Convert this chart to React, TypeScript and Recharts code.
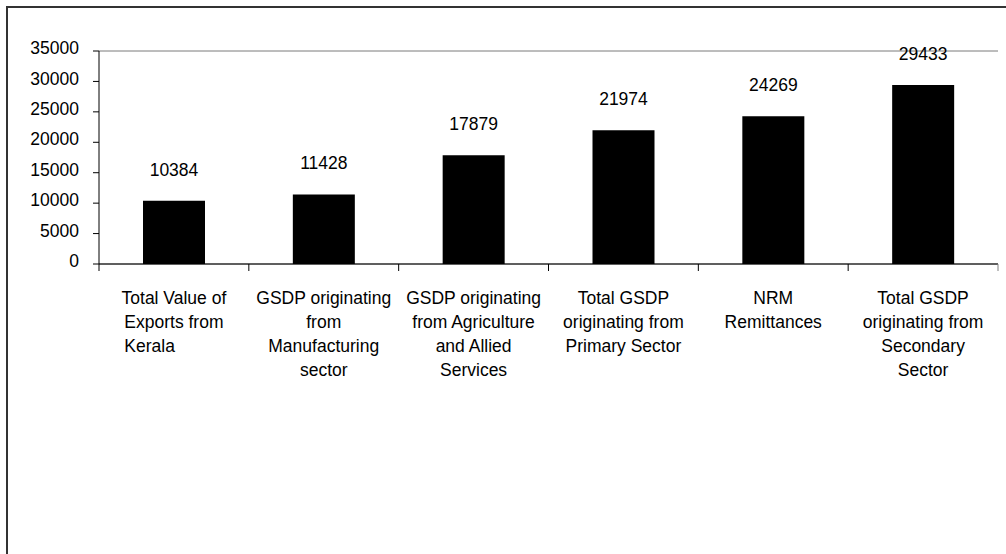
import React from "react";
import { BarChart, Bar, XAxis, YAxis, CartesianGrid, LabelList } from "recharts";

// category labels, one entry per line of the axis label
const categoryLines: string[][] = [
    ["Total Value of", "Exports from", "Kerala\u00A0\u00A0\u00A0\u00A0\u00A0\u00A0\u00A0\u00A0\u00A0\u00A0"],
    ["GSDP originating", "from", "Manufacturing", "sector"],
    ["GSDP originating", "from Agriculture", "and Allied", "Services"],
    ["Total GSDP", "originating from", "Primary Sector"],
    ["NRM", "Remittances"],
    ["Total GSDP", "originating from", "Secondary", "Sector"],
];
const values = [10384, 11428, 17879, 21974, 24269, 29433];
const yTicks = [0, 5000, 10000, 15000, 20000, 25000, 30000, 35000];

const data = values.map((v, i) => ({ name: categoryLines[i].join(" "), value: v }));

const FONT = "'Liberation Sans', Arial, sans-serif";
const FONT_SIZE = 17.5;
const LINE_H = 24;
const TICK_LEN = 7;
const LABEL_GAP = 28;

// label lines plus the tick marks that sit between categories
function CategoryTick(props: any) {
    const { x, y, payload, index, visibleTicksCount } = props;
    const lines = categoryLines[payload.index ?? index] || [];
    const half = payload.offset || 0;
    const last = index === visibleTicksCount - 1;
    return (
        <g>
            <line x1={x - half} x2={x - half} y1={y} y2={y + TICK_LEN} stroke="#000" />
            {last && <line x1={x + half} x2={x + half} y1={y} y2={y + TICK_LEN} stroke="#808080" />}
            <text x={x} y={y + LABEL_GAP} textAnchor="middle" fill="#000" fontSize={FONT_SIZE} fontFamily={FONT}>
                {lines.map((l, i) => (
                    <tspan key={i} x={x} dy={i === 0 ? "0.71em" : LINE_H}>
                        {l}
                    </tspan>
                ))}
            </text>
        </g>
    );
}

export default function App() {
    return (
        <div style={{ position: "absolute", left: 0, top: 0, width: 1006, height: 554, overflow: "hidden", background: "#fff" }}>
            <div
                style={{
                    position: "absolute",
                    left: 6,
                    top: 6,
                    width: 1020,
                    height: 580,
                    borderLeft: "2px solid #333",
                    borderTop: "2px solid #333",
                }}
            />
            <div style={{ position: "absolute", left: 0, top: 0 }}>
                <BarChart
                    width={1006}
                    height={554}
                    data={data}
                    margin={{ top: 51, right: 8, left: 0, bottom: 0 }}
                    style={{ fontFamily: FONT }}
                >
                    <CartesianGrid vertical={false} stroke="#7a7a7a" />
                    <XAxis
                        xAxisId="cat"
                        dataKey="name"
                        height={290}
                        stroke="#000"
                        tickLine={false}
                        tickSize={0}
                        tickMargin={0}
                        interval={0}
                        tick={<CategoryTick />}
                    />
                    <YAxis
                        yAxisId="v"
                        width={99}
                        domain={[0, 35000]}
                        ticks={yTicks}
                        interval={0}
                        stroke="#000"
                        tickSize={6}
                        tickMargin={14}
                        tick={{ fill: "#000", fontSize: FONT_SIZE, dy: -3 }}
                    />
                    <YAxis yAxisId="r" orientation="right" width={0} domain={[0, 1]} tick={false} tickLine={false} stroke="#808080" />
                    <Bar xAxisId="cat" yAxisId="v" dataKey="value" fill="#000" barSize={62} isAnimationActive={false}>
                        <LabelList dataKey="value" position="top" offset={25} fill="#000" fontSize={FONT_SIZE} />
                    </Bar>
                </BarChart>
            </div>
        </div>
    );
}
